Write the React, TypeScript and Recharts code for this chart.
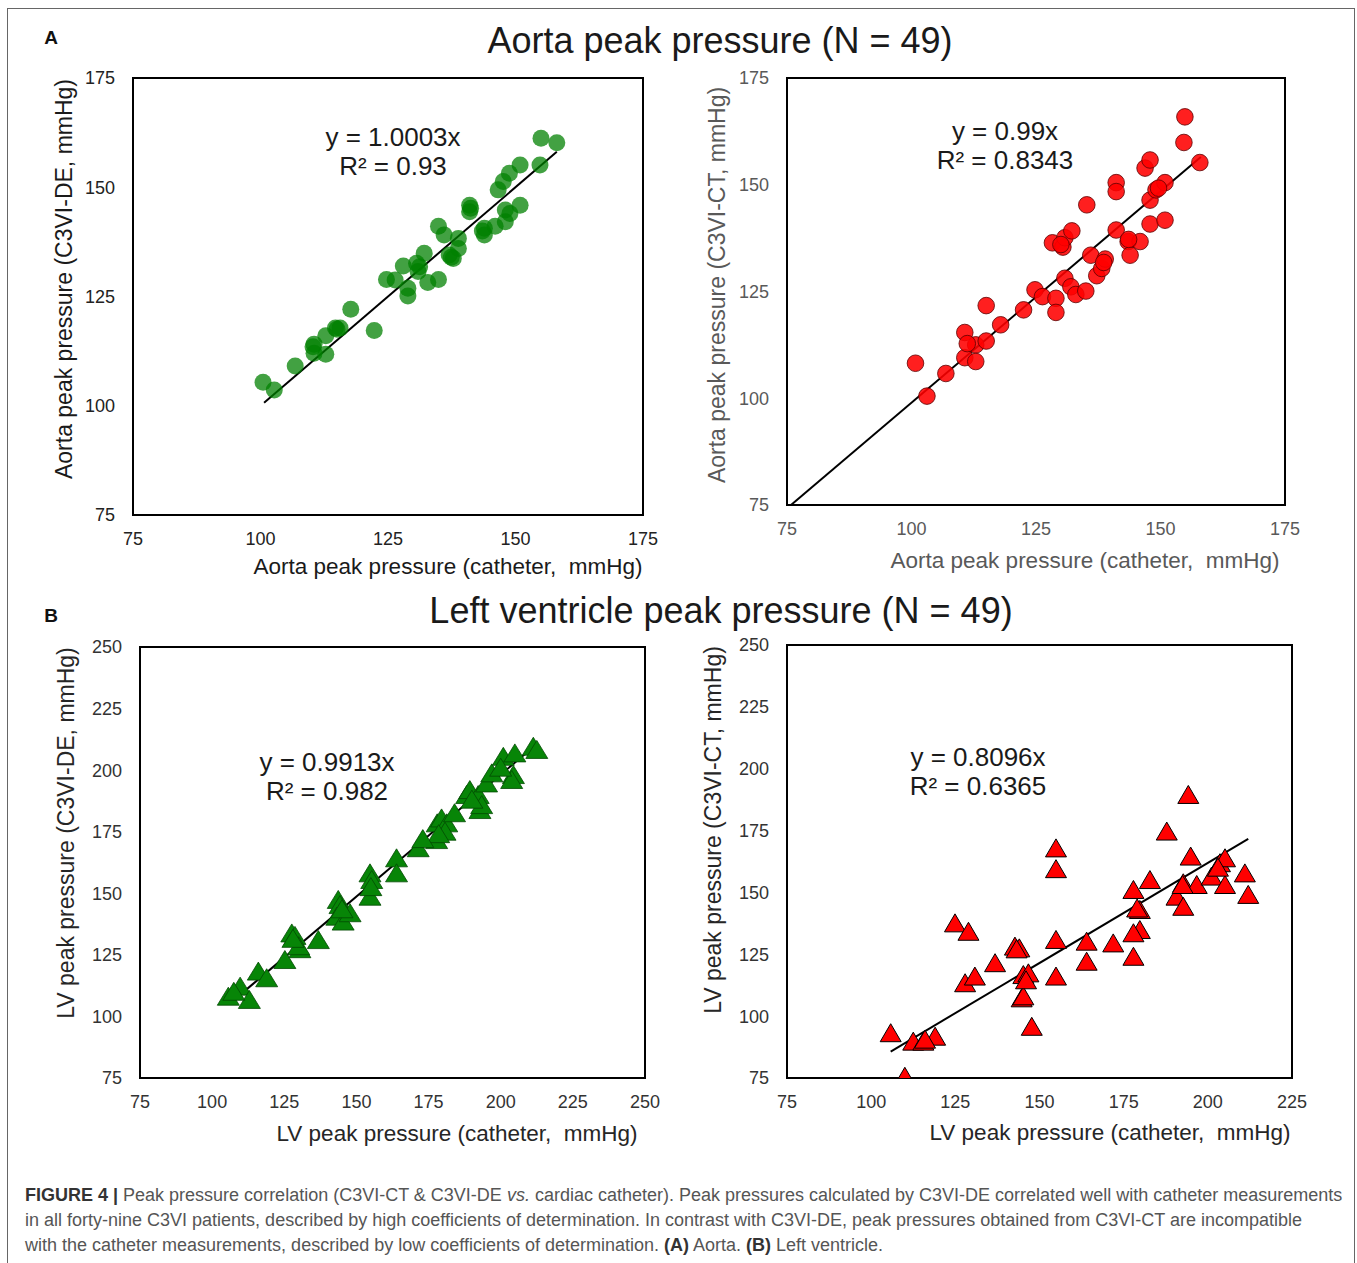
import React from 'react';
import { ScatterChart, Scatter, XAxis, YAxis, ReferenceArea, ReferenceLine } from 'recharts';

// Aorta, C3VI-DE vs catheter
const aortaCathDE = [100.5, 102.7, 106.8, 110.5, 110.5, 112.8, 112.8, 114.7, 115.6, 117.7, 122.3, 124.7, 126.4, 128.0, 128.9, 128.9, 130.6, 130.9, 132.1, 132.8, 134.9, 134.9, 136.0, 137.0, 137.8, 138.8, 138.8, 141.0, 141.0, 143.9, 143.9, 146.0, 148.0, 148.0, 148.9, 150.9, 146.6, 147.6, 148.8, 150.9, 154.8, 155.0, 158.1, 143.5, 131.2, 115.0, 141.2, 137.4, 110.3];
const aortaDE = [105.4, 103.6, 109.1, 114.1, 112.0, 116.0, 111.8, 117.8, 117.8, 122.1, 117.2, 128.9, 128.8, 132.0, 126.9, 125.1, 132.6, 130.7, 134.9, 128.2, 128.9, 141.1, 139.1, 134.5, 133.7, 138.3, 136.0, 145.9, 144.4, 140.6, 139.1, 141.1, 144.8, 142.1, 144.0, 145.9, 149.4, 151.3, 153.2, 155.1, 155.1, 161.2, 160.2, 140.0, 131.8, 117.5, 145.2, 134.0, 113.5];

// Aorta, C3VI-CT vs catheter
const aortaCathCT = [100.8, 103.1, 106.9, 110.7, 110.7, 112.9, 112.9, 115.0, 115.0, 117.9, 122.5, 124.8, 126.3, 128.3, 129.0, 129.0, 130.4, 130.8, 132.2, 130.8, 132.0, 133.0, 135.0, 135.2, 136.0, 137.2, 138.2, 138.9, 141.1, 141.1, 141.1, 143.5, 143.9, 145.9, 146.9, 147.9, 147.9, 147.9, 149.1, 150.9, 150.9, 154.7, 154.9, 157.9, 138.6, 149.6, 130.0, 143.6, 111.2];
const aortaCT = [108.2, 100.5, 105.8, 115.4, 109.5, 112.5, 108.6, 121.7, 113.4, 117.2, 120.7, 125.4, 123.8, 136.4, 123.4, 120.1, 135.4, 137.6, 139.2, 128.1, 126.1, 124.3, 125.1, 145.3, 133.5, 128.7, 130.4, 132.6, 150.5, 148.4, 139.4, 136.7, 133.5, 136.7, 153.9, 155.8, 146.4, 140.8, 148.8, 150.5, 141.7, 159.9, 165.9, 155.2, 131.8, 149.2, 136.0, 137.2, 112.8];

// LV, C3VI-DE vs catheter
const lvCathDE = [105.6, 109.7, 112.9, 116.0, 118.9, 125.2, 127.6, 128.7, 130.4, 136.8, 143.7, 144.3, 143.2, 145.4, 147.8, 154.7, 155.3, 154.7, 163.9, 163.9, 171.4, 178.0, 179.5, 181.3, 177.8, 180.7, 188.2, 189.3, 192.2, 192.8, 195.1, 196.9, 200.9, 204.9, 204.4, 203.8, 211.3, 212.5, 193.4, 145.0, 130.0, 107.5, 178.5, 190.0, 200.0, 155.0, 128.0, 173.0, 184.0];
const lvDE = [108.0, 112.1, 106.7, 118.2, 115.5, 122.9, 133.7, 132.7, 127.3, 131.0, 147.3, 145.2, 140.5, 138.5, 141.9, 158.1, 155.4, 148.6, 164.2, 158.1, 168.3, 178.4, 180.4, 178.4, 171.6, 175.0, 189.9, 191.9, 189.9, 183.8, 194.6, 198.7, 205.4, 206.8, 198.0, 196.0, 209.5, 208.2, 185.8, 143.5, 128.5, 110.0, 174.0, 188.0, 201.0, 152.5, 131.5, 172.0, 182.5];

// LV, C3VI-CT vs catheter
const lvCathCT = [105.8, 110.0, 112.5, 115.5, 119.0, 124.9, 128.9, 127.9, 130.8, 136.8, 142.7, 144.0, 145.2, 146.7, 144.7, 145.2, 147.7, 154.9, 154.9, 154.9, 154.9, 164.0, 164.0, 171.9, 177.9, 179.8, 179.8, 177.9, 177.9, 182.8, 187.8, 194.2, 194.9, 192.7, 190.7, 192.7, 196.7, 201.1, 203.6, 205.1, 205.1, 211.0, 212.0, 192.5, 203.0, 146.0, 143.2, 179.0, 116.0];
const lvCT = [93.1, 75.5, 89.7, 89.7, 91.7, 137.5, 134.1, 113.3, 116.0, 121.4, 128.1, 127.4, 116.6, 117.3, 107.2, 108.0, 95.7, 167.8, 159.4, 130.8, 116.0, 130.1, 122.0, 129.4, 151.0, 142.9, 134.8, 133.5, 124.0, 155.0, 174.6, 189.4, 164.5, 153.7, 148.3, 144.2, 153.0, 156.4, 161.8, 163.8, 153.0, 157.7, 149.0, 153.0, 160.0, 114.5, 127.0, 143.5, 90.5];

// trendline endpoints (catheter x range, fitted y)
const aortaDEFit = [[100.7, 100.7], [158.1, 158.1]];
const aortaCTFit = [[75.8, 75.0], [158.1, 156.5]];
const lvDEFit = [[106.2, 105.3], [211.9, 210.0]];
const lvCTFit = [[105.8, 85.7], [212.0, 171.6]];

const aortaTicks = [75, 100, 125, 150, 175];
const lvYTicks = [75, 100, 125, 150, 175, 200, 225, 250];
const lvXTicksDE = [75, 100, 125, 150, 175, 200, 225, 250];
const lvXTicksCT = [75, 100, 125, 150, 175, 200, 225];

const FONT = '"Liberation Sans", Arial, Helvetica, sans-serif';

const zip = (xs: number[], ys: number[]) => xs.map((x, i) => ({ x, y: ys[i] }));

const GreenDot = (p: any) => <circle cx={p.cx} cy={p.cy} r={8.5} fill="#008000" fillOpacity={0.74} />;
const RedDot = (p: any) => (
  <circle cx={p.cx} cy={p.cy} r={8.3} fill="#ff0000" fillOpacity={0.88} stroke="#5a0000" strokeWidth={0.8} />
);
const GreenTri = (p: any) => (
  <polygon
    points={`${p.cx},${p.cy - 9.5} ${p.cx + 11},${p.cy + 8.5} ${p.cx - 11},${p.cy + 8.5}`}
    fill="#078507"
    stroke="#034a03"
    strokeWidth={0.8}
  />
);
const RedTri = (p: any) => (
  <polygon
    points={`${p.cx},${p.cy - 9.5} ${p.cx + 10.5},${p.cy + 8.5} ${p.cx - 10.5},${p.cy + 8.5}`}
    fill="#ff0000"
    stroke="#000"
    strokeWidth={1}
  />
);

interface PanelProps {
  box: [number, number, number, number];
  domain: [number, number];
  yDomain: [number, number];
  xTicks: number[];
  yTicks: number[];
  data: { x: number; y: number }[];
  fit: number[][];
  shape: any;
  tickColor: string;
}

const Panel: React.FC<PanelProps> = ({ box, domain, yDomain, xTicks, yTicks, data, fit, shape, tickColor }) => {
  const [x0, y0, x1, y1] = box;
  const width = x1 - x0 + 100;
  const height = y1 - y0 + 70;
  return (
    <div style={{ position: 'absolute', left: x0 - 80, top: y0 - 20 }}>
      <ScatterChart width={width} height={height} margin={{ top: 20, right: 20, bottom: 10, left: 20 }}>
        <XAxis
          type="number"
          dataKey="x"
          domain={domain}
          ticks={xTicks}
          allowDataOverflow
          axisLine={false}
          tickLine={false}
          tickSize={0}
          tickMargin={17}
          height={40}
          interval={0}
          tick={{ fill: tickColor, fontSize: 18, fontFamily: FONT }}
        />
        <YAxis
          type="number"
          dataKey="y"
          domain={yDomain}
          ticks={yTicks}
          allowDataOverflow
          axisLine={false}
          tickLine={false}
          tickSize={0}
          tickMargin={18}
          width={60}
          interval={0}
          tick={{ fill: tickColor, fontSize: 18, fontFamily: FONT }}
        />
        <ReferenceArea
          x1={domain[0]}
          x2={domain[1]}
          y1={yDomain[0]}
          y2={yDomain[1]}
          fill="none"
          fillOpacity={0}
          stroke="#000"
          strokeWidth={2}
          ifOverflow="visible"
        />
        <Scatter data={data} shape={shape} isAnimationActive={false} />
        <ReferenceLine
          segment={[
            { x: fit[0][0], y: fit[0][1] },
            { x: fit[1][0], y: fit[1][1] },
          ]}
          stroke="#000"
          strokeWidth={2}
          ifOverflow="visible"
        />
      </ScatterChart>
    </div>
  );
};

const Txt: React.FC<{ x: number; y: number; size: number; color?: string; rotate?: boolean; bold?: boolean; children: React.ReactNode }> = ({
  x,
  y,
  size,
  color = '#1a1a1a',
  rotate,
  bold,
  children,
}) => (
  <div
    style={{
      position: 'absolute',
      left: x,
      top: y,
      transform: `translate(-50%, -50%)${rotate ? ' rotate(-90deg)' : ''}`,
      fontSize: size,
      lineHeight: 1,
      fontFamily: FONT,
      fontWeight: bold ? 700 : 400,
      color,
      whiteSpace: 'pre',
    }}
  >
    {children}
  </div>
);

export default function App() {
  return (
    <div style={{ position: 'absolute', left: 0, top: 0, width: 1357, height: 1263, overflow: 'hidden', background: '#fff', fontFamily: FONT }}>
      <div style={{ position: 'absolute', left: 7, top: 8, width: 1346, height: 1300, border: '1.5px solid #666' }} />

      <Txt x={51} y={37} size={19} bold color="#111">A</Txt>
      <Txt x={720} y={41} size={36}>Aorta peak pressure (N = 49)</Txt>
      <Txt x={51} y={615} size={19} bold color="#111">B</Txt>
      <Txt x={721} y={611} size={36}>Left ventricle peak pressure (N = 49)</Txt>

      <Panel box={[133, 78, 643, 515]} domain={[75, 175]} yDomain={[75, 175]} xTicks={aortaTicks} yTicks={aortaTicks}
        data={zip(aortaCathDE, aortaDE)} fit={aortaDEFit} shape={GreenDot} tickColor="#222" />
      <Panel box={[787, 78, 1285, 505]} domain={[75, 175]} yDomain={[75, 175]} xTicks={aortaTicks} yTicks={aortaTicks}
        data={zip(aortaCathCT, aortaCT)} fit={aortaCTFit} shape={RedDot} tickColor="#595959" />
      <Panel box={[140, 647, 645, 1078]} domain={[75, 250]} yDomain={[75, 250]} xTicks={lvXTicksDE} yTicks={lvYTicks}
        data={zip(lvCathDE, lvDE)} fit={lvDEFit} shape={GreenTri} tickColor="#333" />
      <Panel box={[787, 645, 1292, 1078]} domain={[75, 225]} yDomain={[75, 250]} xTicks={lvXTicksCT} yTicks={lvYTicks}
        data={zip(lvCathCT, lvCT)} fit={lvCTFit} shape={RedTri} tickColor="#333" />

      <Txt x={393} y={137} size={26}>y = 1.0003x</Txt>
      <Txt x={393} y={166} size={26}>R² = 0.93</Txt>
      <Txt x={1005} y={131} size={26}>y = 0.99x</Txt>
      <Txt x={1005} y={160} size={26}>R² = 0.8343</Txt>
      <Txt x={327} y={762} size={26}>y = 0.9913x</Txt>
      <Txt x={327} y={791} size={26}>R² = 0.982</Txt>
      <Txt x={978} y={757} size={26}>y = 0.8096x</Txt>
      <Txt x={978} y={786} size={26}>R² = 0.6365</Txt>

      <Txt x={448} y={567} size={22.5}>Aorta peak pressure (catheter,  mmHg)</Txt>
      <Txt x={1085} y={561} size={22.5} color="#595959">Aorta peak pressure (catheter,  mmHg)</Txt>
      <Txt x={457} y={1134} size={22.5} color="#262626">LV peak pressure (catheter,  mmHg)</Txt>
      <Txt x={1110} y={1133} size={22.5} color="#262626">LV peak pressure (catheter,  mmHg)</Txt>

      <Txt x={64} y={279} size={23} rotate>Aorta peak pressure (C3VI-DE, mmHg)</Txt>
      <Txt x={717} y={285} size={23} rotate color="#595959">Aorta peak pressure (C3VI-CT, mmHg)</Txt>
      <Txt x={66} y={833} size={23} rotate color="#262626">LV peak pressure (C3VI-DE, mmHg)</Txt>
      <Txt x={713} y={830} size={23} rotate color="#262626">LV peak pressure (C3VI-CT, mmHg)</Txt>

      <div style={{ position: 'absolute', left: 25, top: 1183, fontSize: 18, lineHeight: '25px', color: '#555', fontFamily: FONT, whiteSpace: 'nowrap' }}>
        <div>
          <b style={{ color: '#333' }}>FIGURE 4 |</b> Peak pressure correlation (C3VI-CT &amp; C3VI-DE <i>vs.</i> cardiac catheter). Peak pressures calculated by C3VI-DE correlated well with catheter measurements
        </div>
        <div>in all forty-nine C3VI patients, described by high coefficients of determination. In contrast with C3VI-DE, peak pressures obtained from C3VI-CT are incompatible</div>
        <div>
          with the catheter measurements, described by low coefficients of determination. <b style={{ color: '#333' }}>(A)</b> Aorta. <b style={{ color: '#333' }}>(B)</b> Left ventricle.
        </div>
      </div>
    </div>
  );
}
